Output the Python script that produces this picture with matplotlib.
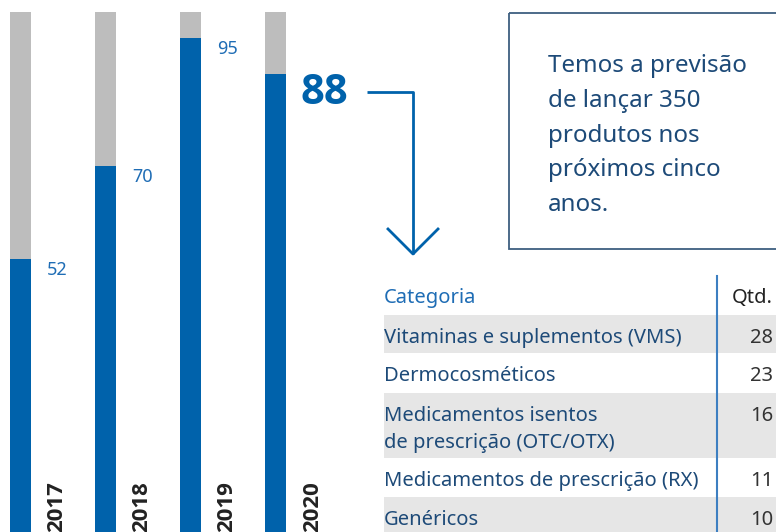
#Lançamentos por ano e previsão por categoria
import matplotlib.pyplot as plt
from matplotlib.patches import Rectangle
import numpy as np

plt.rcParams['font.family'] = ['Noto Sans', 'DejaVu Sans']

#Data
years = ["2017", "2018", "2019", "2020"]
launches = [52, 70, 95, 88]
total = [100, 100, 100, 100]
categories = ["Vitaminas e suplementos (VMS)", "Dermocosméticos",
              "Medicamentos isentos\nde prescrição (OTC/OTX)",
              "Medicamentos de prescrição (RX)", "Genéricos"]
quantities = [28, 23, 16, 11, 10]
note_lines = ["Temos a previsão", "de lançar 350", "produtos nos",
              "próximos cinco", "anos."]

#Colors
blue = "#0062ab"
light_blue = "#1f6db5"
dark_blue = "#1d4a78"
gray = "#bdbdbd"
bold_font = ['Open Sans', 'DejaVu Sans']

W, H = 776, 532
fig = plt.figure(figsize=(W/100, H/100), dpi=100)

#Bar chart, axes over the whole figure (px scale: 85.2 px per bar slot)
ax = fig.add_axes([0, 0, 1, 1])
slot = 85.2
first = 20.2  # px of first bar centre
x = np.arange(len(years))
ax.set_xlim(-first/slot, (W-first)/slot)
ax.set_ylim(-1.17, 102.3)
ax.axis("off")
base = -5  # bars run off the bottom edge
ax.bar(x, np.array(total)-base, bottom=base, width=21/slot, color=gray)
ax.bar(x, np.array(launches)-base, bottom=base, width=21/slot, color=blue)

for i, (yr, v) in enumerate(zip(years, launches)):
    if i == len(years)-1:  # last year highlighted
        ax.annotate(str(v), (x[i], v), xytext=(25, -20), textcoords="offset pixels",
                    fontsize=30, fontweight="bold", family=bold_font, color=blue,
                    va="center", ha="left")
    else:
        ax.annotate(str(v), (x[i], v), xytext=(27, -11), textcoords="offset pixels",
                    fontsize=13, color=light_blue, va="center", ha="left")
    ax.annotate(yr, (x[i], -1.17), xytext=(26, 0), textcoords="offset pixels",
                rotation=90, fontsize=16, fontweight="bold", family=bold_font,
                color="#222222", ha="left", va="bottom")

#Overlay in pixel coords for arrow, note box and table
ov = fig.add_axes([0, 0, 1, 1], facecolor="none")
ov.set_xlim(0, W)
ov.set_ylim(H, 0)
ov.axis("off")

#Arrow
ov.plot([367, 413, 413], [92, 92, 254], color=blue, lw=2, solid_capstyle="butt")
ov.plot([388, 413, 438], [229, 254, 229], color=blue, lw=2)

#Note box
ov.add_patch(Rectangle((509, 13), 280, 236, fill=False, edgecolor="#3e5f80", lw=1.3))
for i, line in enumerate(note_lines):
    ov.text(548, 66 + i*34.8, line, fontsize=17.4, color=dark_blue, va="center", ha="left")

#Table
row_tops = [315, 353, 393, 458, 497]
row_bottoms = [353, 393, 458, 497, 540]
for i in range(len(categories)):
    if i % 2 == 0:
        ov.add_patch(Rectangle((384, row_tops[i]), 400, row_bottoms[i]-row_tops[i],
                               color="#e6e6e6", lw=0))
ov.plot([717, 717], [276, 540], color="#3d7fc1", lw=1.5)
ov.text(384, 298, "Categoria", fontsize=14.5, color=light_blue, va="center", ha="left")
ov.text(773, 298, "Qtd.", fontsize=14.5, color="#222222", va="center", ha="right")
for i, (cat, q) in enumerate(zip(categories, quantities)):
    y0 = row_tops[i] + 23
    for j, ln in enumerate(cat.split("\n")):
        ov.text(384, y0 + j*27, ln, fontsize=14.5, color=dark_blue, va="center", ha="left")
    ov.text(773, y0, str(q), fontsize=14.5, color="#333333", va="center", ha="right")

plt.savefig("out.png", dpi=100)
